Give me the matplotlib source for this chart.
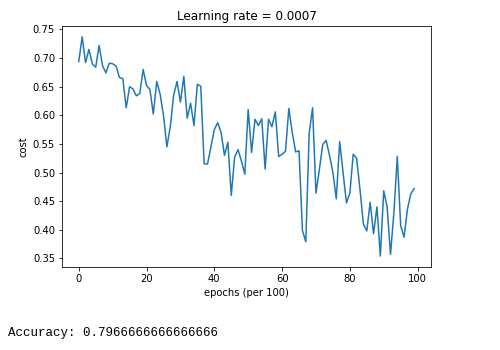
import matplotlib
matplotlib.use("Agg")
import matplotlib.pyplot as plt

learning_rate = 0.0007
accuracy_text = "Accuracy: 0.7966666666666666"

# cost recorded every 100 epochs
costs = [
    0.694, 0.737, 0.692, 0.715, 0.690, 0.684, 0.722, 0.687, 0.674, 0.691,
    0.690, 0.686, 0.666, 0.664, 0.613, 0.650, 0.646, 0.634, 0.638, 0.680,
    0.652, 0.645, 0.602, 0.659, 0.637, 0.600, 0.545, 0.580, 0.635, 0.659,
    0.623, 0.668, 0.595, 0.621, 0.582, 0.654, 0.651, 0.515, 0.515, 0.545,
    0.575, 0.587, 0.570, 0.530, 0.553, 0.460, 0.527, 0.540, 0.520, 0.497,
    0.610, 0.535, 0.593, 0.582, 0.594, 0.506, 0.593, 0.580, 0.606, 0.528,
    0.532, 0.537, 0.612, 0.570, 0.536, 0.538, 0.399, 0.379, 0.569, 0.613,
    0.464, 0.505, 0.549, 0.556, 0.530, 0.500, 0.454, 0.554, 0.500, 0.447,
    0.464, 0.532, 0.525, 0.470, 0.410, 0.398, 0.448, 0.393, 0.440, 0.354,
    0.468, 0.440, 0.357, 0.430, 0.528, 0.407, 0.387, 0.436, 0.463, 0.472,
]

fig = plt.figure(figsize=(500 / 72, 350 / 72), dpi=72)
ax = fig.add_axes([0.124, 0.237, 0.738, 0.689])
ax.plot(costs)
ax.set_ylabel("cost")
ax.set_xlabel("epochs (per 100)")
ax.set_title("Learning rate = " + str(learning_rate))

fig.text(8 / 500, 0.04, accuracy_text, family="Liberation Mono",
         fontsize=12.5, va="baseline")

fig.savefig("out.png", dpi=72)
